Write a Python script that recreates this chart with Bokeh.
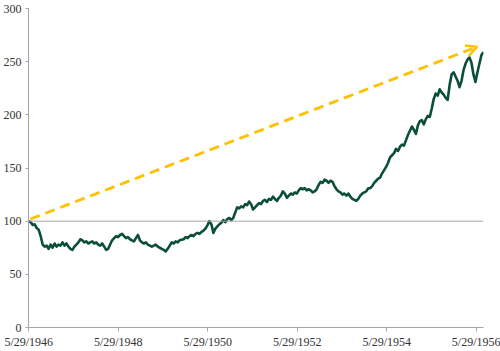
import pandas as pd
from bokeh.plotting import figure
from bokeh.models import Range1d, FixedTicker, Span, Arrow, OpenHead
from bokeh.embed import file_html
from bokeh.resources import INLINE

start_date = "1946-05-29"
end_date = "1956-07-26"
values = [
    100, 99, 96.5, 97, 93.5, 92, 86, 78, 76, 77, 74, 78, 75, 79, 76, 78, 77, 80, 77, 79,
    76, 74, 73, 76, 78, 80, 83, 82, 80, 81, 79, 80, 81, 79, 80, 78, 77, 79, 76, 73,
    74, 78, 82, 84, 86, 85, 87, 88, 86, 84, 85, 83, 82, 81, 84, 87, 82, 80, 79, 80,
    78, 77, 76, 77, 78, 76, 75, 74, 73, 71.6, 74, 77, 80, 79, 81, 80, 82, 82.5, 83, 85,
    84, 86, 87, 86, 88, 89, 88, 90, 91, 93, 96, 100, 97, 89, 93, 95, 97, 98.5, 101, 99,
    102, 103, 101, 103, 108, 113, 112, 114, 113, 116, 115, 118.5, 116, 111, 113, 115, 117, 116, 119, 120,
    118, 121, 120, 123, 121, 119, 122, 124, 128, 126, 122, 124, 126, 125, 127, 126, 129, 131, 130, 131,
    129, 130, 129, 127, 128, 130, 134, 137, 136, 139, 138, 136, 138, 137, 133, 130, 128, 127, 125, 126,
    124, 126, 123, 121, 120, 119, 121, 124, 126, 127, 128, 131, 131, 133, 136, 138, 140, 141, 145, 148,
    151, 155, 160, 162, 164, 168, 166, 170, 172, 171, 176, 181, 185, 189, 186, 182, 190, 194, 195, 191,
    196, 199, 198, 206, 215, 220, 218, 224, 221, 219, 216, 214, 228, 238, 240, 236, 232, 226, 232, 242,
    248, 252, 254, 249, 238, 231, 240, 248, 256, 259,
]
tick_labels = ["5/29/1946", "5/29/1948", "5/29/1950", "5/29/1952", "5/29/1954", "5/29/1956"]
y_ticks = [0, 50, 100, 150, 200, 250, 300]
baseline = 100
trend_start = 102
trend_end = 264

dates = pd.date_range(start_date, end_date, periods=len(values))
t0 = pd.Timestamp(start_date)
days = [(d - t0).days + (d - t0).seconds / 86400 for d in dates]
tick_days = [(pd.Timestamp(s.split("/")[2] + "-05-29") - t0).days for s in tick_labels]

FONT = "'Liberation Serif', serif"
GREEN = "#0B4E3A"
GOLD = "#FFC000"
GREY = "#A6A6A6"

p = figure(width=500, height=351, output_backend="svg", toolbar_location=None,
           min_border_left=28, min_border_right=17, min_border_top=8, min_border_bottom=23)
p.x_range = Range1d(-2, 3712)
p.y_range = Range1d(0, 300)
p.outline_line_color = None
p.xgrid.visible = False
p.ygrid.visible = False
p.background_fill_color = "white"
p.border_fill_color = "white"

p.add_layout(Span(location=baseline, dimension="width", line_color=GREY, line_width=1))

p.line(days, values, line_color=GREEN, line_width=2.6, line_join="round")

p.add_layout(Arrow(end=OpenHead(line_color=GOLD, line_width=2.5, size=11),
                   x_start=14, y_start=trend_start, x_end=3660, y_end=trend_end,
                   line_color=GOLD, line_width=2.8, line_dash="10 6"))

for ax in (p.xaxis[0], p.yaxis[0]):
    ax.axis_line_color = GREY
    ax.major_tick_line_color = GREY
    ax.minor_tick_line_color = None
    ax.major_tick_in = 0
    ax.major_label_text_font = FONT
    ax.major_label_text_font_size = "12px"
    ax.major_label_text_color = "#333333"

p.xaxis.ticker = FixedTicker(ticks=tick_days)
p.xaxis.major_label_overrides = {d: s for d, s in zip(tick_days, tick_labels)}
p.xaxis.major_tick_out = 4
p.xaxis.major_label_standoff = 3
p.yaxis.ticker = FixedTicker(ticks=y_ticks)
p.yaxis.major_tick_out = 3
p.yaxis.major_label_standoff = 4

open("out.html", "w").write(file_html(p, INLINE))
